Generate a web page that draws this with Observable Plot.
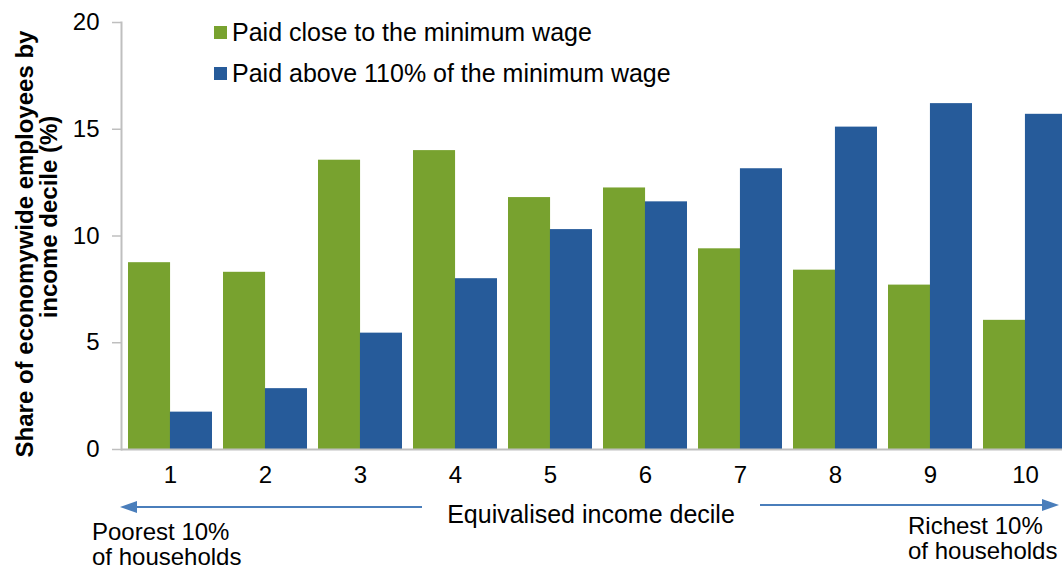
<!DOCTYPE html>
<html>
<head>
<meta charset="utf-8">
<script src="https://cdn.jsdelivr.net/npm/d3@7"></script>
<script src="https://cdn.jsdelivr.net/npm/@observablehq/plot@0.6"></script>
<style>
  html, body { margin: 0; padding: 0; overflow: hidden; background: #fff; }
  #wrap { position: relative; width: 1075px; height: 569px; }
  #wrap svg { position: absolute; left: 0; top: 0; }
  .t { font-family: "Liberation Sans", Arial, sans-serif; font-size: 24px; fill: #000; }
  .t25 { font-size: 25px; }
</style>
</head>
<body>
<div id="wrap"></div>
<script>
// ---- data ----
const deciles = ["1", "2", "3", "4", "5", "6", "7", "8", "9", "10"];
const seriesNames = ["Paid close to the minimum wage", "Paid above 110% of the minimum wage"];
const closeToMin = [8.75, 8.3, 13.55, 14.0, 11.8, 12.25, 9.4, 8.4, 7.7, 6.05];
const above110 = [1.75, 2.85, 5.45, 8.0, 10.3, 11.6, 13.15, 15.1, 16.2, 15.7];
const yTicks = [0, 5, 10, 15, 20];
const colors = ["#78A22F", "#265B9A"];
const yTitle = ["Share of economywide employees by", "income decile (%)"];
const xTitle = "Equivalised income decile";
const leftNote = ["Poorest 10%", "of households"];
const rightNote = ["Richest 10%", "of households"];

const greenData = deciles.map((d, i) => ({decile: d, value: closeToMin[i]}));
const blueData = deciles.map((d, i) => ({decile: d, value: above110[i]}));

const W = 1074, H = 569, ML = 121, MR = 0, MT = 22, MB = 120;
const padIn = 0.12, padOut = 0.06;
const step = (W - ML - MR) / deciles.length;
const half = step * (1 - padIn) / 2;

const chart = Plot.plot({
  width: W,
  height: H,
  marginLeft: ML,
  marginRight: MR,
  marginTop: MT,
  marginBottom: MB,
  style: {fontFamily: "'Liberation Sans', Arial, sans-serif", fontSize: "24px", color: "#000", background: "transparent"},
  x: {domain: deciles, paddingInner: padIn, paddingOuter: padOut},
  y: {domain: [0, 20]},
  marks: [
    Plot.barY(greenData, {x: "decile", y: "value", fill: colors[0], insetRight: half}),
    Plot.barY(blueData, {x: "decile", y: "value", fill: colors[1], insetLeft: half}),
    Plot.axisY({ticks: yTicks, tickSize: 9, tickPadding: 13, stroke: "#bfbfbf", strokeWidth: 1.5, label: null, fill: "#000"}),
    Plot.axisX({tickSize: 0, tickPadding: 16, label: null, fill: "#000"}),
    Plot.frame({anchor: "left", stroke: "#bfbfbf", strokeWidth: 2}),
    Plot.ruleY([0], {stroke: "#bfbfbf", strokeWidth: 2})
  ]
});
const wrap = document.getElementById("wrap");
wrap.appendChild(chart);

// ---- overlay: legend, titles, arrows ----
const ns = "http://www.w3.org/2000/svg";
const ov = document.createElementNS(ns, "svg");
ov.setAttribute("width", W);
ov.setAttribute("height", H);
function el(name, attrs, text) {
  const e = document.createElementNS(ns, name);
  for (const k in attrs) e.setAttribute(k, attrs[k]);
  if (text != null) e.textContent = text;
  ov.appendChild(e);
  return e;
}
// legend
seriesNames.forEach((s, i) => {
  el("rect", {x: 214, y: 26 + i * 41, width: 13, height: 13, fill: colors[i]});
  el("text", {x: 232, y: 41 + i * 41, class: "t t25"}, s);
});
// y title
el("text", {class: "t", "font-weight": "bold", "text-anchor": "middle", transform: "translate(33,244) rotate(-90)"}, yTitle[0]);
el("text", {class: "t", "font-weight": "bold", "text-anchor": "middle", transform: "translate(57,217) rotate(-90)"}, yTitle[1]);
// x title
el("text", {class: "t t25", x: 591, y: 523, "text-anchor": "middle"}, xTitle);
// notes
el("text", {class: "t", x: 92, y: 540}, leftNote[0]);
el("text", {class: "t", x: 92, y: 565}, leftNote[1]);
el("text", {class: "t", x: 908, y: 534}, rightNote[0]);
el("text", {class: "t", x: 908, y: 559}, rightNote[1]);
// arrows
const ac = "#4A7EBB";
el("line", {x1: 422, y1: 507, x2: 132, y2: 507, stroke: ac, "stroke-width": 2});
el("path", {d: "M120,507 L137,501 L137,513 Z", fill: ac});
el("line", {x1: 760, y1: 505, x2: 1046, y2: 505, stroke: ac, "stroke-width": 2});
el("path", {d: "M1059,505 L1042,499 L1042,511 Z", fill: ac});
wrap.appendChild(ov);
</script>
</body>
</html>
